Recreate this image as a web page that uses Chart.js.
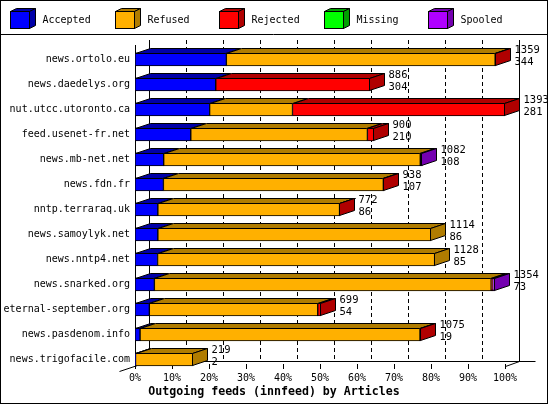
<!DOCTYPE html>
<html>
<head>
<meta charset="utf-8">
<script src="https://cdn.jsdelivr.net/npm/chart.js@4/dist/chart.umd.min.js"></script>
<style>
  html, body { margin: 0; padding: 0; background: #fff; }
  canvas { display: block; }
</style>
</head>
<body>
<canvas id="feedChart" width="550" height="405"></canvas>
<script>
// values
const feeds = ['news.ortolo.eu', 'news.daedelys.org', 'nut.utcc.utoronto.ca', 'feed.usenet-fr.net',
  'news.mb-net.net', 'news.fdn.fr', 'nntp.terraraq.uk', 'news.samoylyk.net', 'news.nntp4.net',
  'news.snarked.org', 'eternal-september.org', 'news.pasdenom.info', 'news.trigofacile.com'];
const totals   = [1359, 886, 1393, 900, 1082, 938, 772, 1114, 1128, 1354, 699, 1075, 219];
const accepted = [344, 304, 281, 210, 108, 107, 86, 86, 85, 73, 54, 19, 2];
const refused  = [1012, 0, 312, 665, 966, 828, 684, 1028, 1043, 1268, 634, 1054, 217];
const rejected = [3, 582, 800, 25, 0, 3, 2, 0, 0, 6, 11, 2, 0];
const missing  = [0, 0, 0, 0, 0, 0, 0, 0, 0, 0, 0, 0, 0];
const spooled  = [0, 0, 0, 0, 8, 0, 0, 0, 0, 7, 0, 0, 0];
const xTicks = [0, 10, 20, 30, 40, 50, 60, 70, 80, 90, 100];

const seriesNames = ['Accepted', 'Refused', 'Rejected', 'Missing', 'Spooled'];
const seriesData = [accepted, refused, rejected, missing, spooled];
const fronts = ['#0000ff', '#ffb000', '#ff0000', '#00ff00', '#b000ff'];
const darks  = ['#0000a8', '#b07c00', '#b00000', '#00a000', '#7400b0'];

const mono = 'DejaVu Sans Mono';
const maxTotal = Math.max(...totals);
const DX = 15, DY = 5;      // bar depth
const WX = 14, WY = 5;      // wall depth

function poly(ctx, pts, fill) {
    ctx.beginPath();
    ctx.moveTo(pts[0][0], pts[0][1]);
    for (let i = 1; i < pts.length; i++) ctx.lineTo(pts[i][0], pts[i][1]);
    ctx.closePath();
    ctx.fillStyle = fill;
    ctx.fill();
    ctx.stroke();
}

const decorPlugin = {
    id: 'decor',
    beforeDatasetsDraw(chart) {
        const ctx = chart.ctx;
        const xs = chart.scales.x;
        const top = 40, floorY = 361;
        ctx.save();
        ctx.strokeStyle = '#000';
        ctx.lineWidth = 1;
        // back wall grid
        xTicks.forEach((t, k) => {
            const x = Math.round(xs.getPixelForValue(t)) + WX + 0.5;
            ctx.setLineDash(k === 0 || k === xTicks.length - 1 ? [] : [4, 3]);
            ctx.beginPath();
            ctx.moveTo(x, top);
            ctx.lineTo(x, floorY);
            ctx.stroke();
        });
        ctx.setLineDash([]);
        const x0 = Math.round(xs.getPixelForValue(0)) + 0.5;
        const x1 = Math.round(xs.getPixelForValue(100)) + 0.5;
        // floor
        ctx.beginPath();
        ctx.moveTo(x0 + WX, floorY + 0.5);
        ctx.lineTo(x1 + WX + 16, floorY + 0.5);
        ctx.moveTo(x0 - 16, floorY + 10.5);
        ctx.lineTo(x0 + WX, floorY + 0.5);
        ctx.moveTo(x1, floorY + 5.5);
        ctx.lineTo(x1 + WX, floorY + 0.5);
        ctx.stroke();
        // front axis line
        ctx.beginPath();
        ctx.moveTo(x0, 45);
        ctx.lineTo(x0, floorY + 5);
        ctx.stroke();
        // small bottom ticks
        xTicks.forEach((t) => {
            const x = Math.round(xs.getPixelForValue(t)) + 0.5;
            ctx.beginPath();
            ctx.moveTo(x, floorY + 3);
            ctx.lineTo(x, floorY + 8);
            ctx.stroke();
        });
        ctx.restore();
    },
    afterDatasetsDraw(chart) {
        const ctx = chart.ctx;
        ctx.save();
        ctx.strokeStyle = '#000';
        ctx.lineWidth = 1;
        feeds.forEach((name, i) => {
            let last = -1;
            let yTop = 0, yBot = 0, xEnd = 0;
            seriesData.forEach((arr, d) => {
                const bar = chart.getDatasetMeta(d).data[i];
                const left = Math.min(bar.x, bar.base), right = Math.max(bar.x, bar.base);
                yTop = Math.round(bar.y - bar.height / 2) + 0.5;
                yBot = Math.round(bar.y + bar.height / 2) - 0.5;
                if (arr[i] <= 0) return;
                const l = Math.round(left) + 0.5, r = Math.round(right) - 0.5;
                poly(ctx, [[l, yTop], [l + DX, yTop - DY], [r + DX, yTop - DY], [r, yTop]], darks[d]);
                last = d;
                xEnd = r;
            });
            if (last >= 0) {
                poly(ctx, [[xEnd, yTop], [xEnd + DX, yTop - DY], [xEnd + DX, yBot - DY], [xEnd, yBot]], darks[last]);
                const cy = chart.getDatasetMeta(0).data[i].y;
                ctx.fillStyle = '#000';
                ctx.font = '10.5px "' + mono + '"';
                ctx.textAlign = 'left';
                ctx.textBaseline = 'middle';
                ctx.fillText(String(totals[i]), xEnd + DX + 4, cy - 9.5);
                ctx.fillText(String(accepted[i]), xEnd + DX + 4, cy + 2.5);
            }
        });
        ctx.restore();
    },
    afterDraw(chart) {
        const ctx = chart.ctx;
        ctx.save();
        ctx.strokeStyle = '#000';
        ctx.lineWidth = 1;
        ctx.strokeRect(0.5, 0.5, 547, 403);
        ctx.beginPath();
        ctx.moveTo(0, 34.5);
        ctx.lineTo(547, 34.5);
        ctx.stroke();
        // legend cubes
        ctx.font = '10px "' + mono + '"';
        ctx.textBaseline = 'middle';
        ctx.textAlign = 'left';
        seriesNames.forEach((label, d) => {
            const bx = Math.round(10 + d * 104.5) + 0.5, by = 11.5, w = 19, h = 17;
            poly(ctx, [[bx, by], [bx + 6, by - 3], [bx + w + 6, by - 3], [bx + w, by]], darks[d]);
            poly(ctx, [[bx + w, by], [bx + w + 6, by - 3], [bx + w + 6, by + h - 3], [bx + w, by + h]], darks[d]);
            ctx.fillStyle = fronts[d];
            ctx.fillRect(bx, by, w, h);
            ctx.strokeRect(bx, by, w, h);
            ctx.fillStyle = '#000';
            ctx.fillText(label, bx + 32, 20);
        });
        // axis title
        ctx.font = 'bold 11.6px "' + mono + '"';
        ctx.textAlign = 'center';
        ctx.fillText('Outgoing feeds (innfeed) by Articles', 274, 392);
        ctx.restore();
    }
};

const ctx = document.getElementById('feedChart').getContext('2d');
new Chart(ctx, {
    type: 'bar',
    data: {
        labels: feeds,
        datasets: seriesNames.map((label, d) => ({
            label: label,
            data: seriesData[d].map(v => v / maxTotal * 100),
            backgroundColor: fronts[d],
            borderColor: '#000',
            borderWidth: 1,
            borderSkipped: false,
            barThickness: 13
        }))
    },
    options: {
        indexAxis: 'y',
        responsive: false,
        animation: false,
        devicePixelRatio: 1,
        layout: { padding: { left: 0, right: 45, top: 46.8, bottom: 0 } },
        plugins: { legend: { display: false }, tooltip: { enabled: false } },
        scales: {
            x: {
                stacked: true,
                min: 0,
                max: 100,
                afterBuildTicks: (s) => { s.ticks = xTicks.map(v => ({ value: v })); },
                ticks: {
                    callback: (v) => v + '%',
                    font: { family: mono, size: 10 },
                    color: '#000',
                    padding: 1,
                    maxRotation: 0,
                    autoSkip: false
                },
                grid: { display: false, drawTicks: false },
                border: { display: false },
                afterFit: (s) => { s.height = 33.2; }
            },
            y: {
                stacked: true,
                ticks: { font: { family: mono, size: 10 }, color: '#000', padding: 5, autoSkip: false },
                grid: { display: false, drawTicks: false },
                border: { display: false },
                afterFit: (s) => { s.width = 135; }
            }
        }
    },
    plugins: [decorPlugin]
});
</script>
</body>
</html>
